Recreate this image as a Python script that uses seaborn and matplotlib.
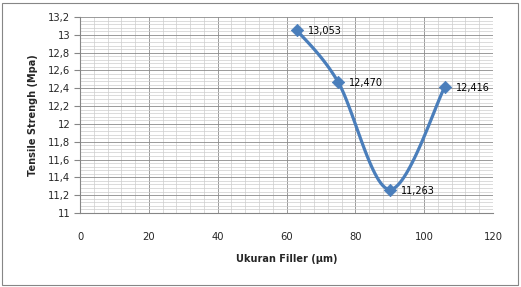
import numpy as np
import matplotlib
matplotlib.use("Agg")
import matplotlib.pyplot as plt
import seaborn as sns
import pandas as pd
from matplotlib.ticker import MultipleLocator, FuncFormatter
from matplotlib.patches import Rectangle

ukuran = [63, 75, 90, 106]
tensile = [13.053, 12.470, 11.263, 12.416]
labels = ["13,053", "12,470", "11,263", "12,416"]

sns.set_theme(style="white")
plt.rcParams['font.family'] = ['DejaVu Sans']

fig = plt.figure(figsize=(5.21, 2.87), dpi=100)
ax = fig.add_axes([80/521, 1-213/287, 413/521, 196/287])

xmin, xmax, ymin, ymax = 0, 120, 11, 13.2
ax.set_xlim(xmin, xmax)
ax.set_ylim(ymin, ymax)

# smooth line (Excel-style Bezier smoothing) computed in pixel space
sx = 413/(xmax-xmin); sy = 196/(ymax-ymin)
P = np.array([[x*sx, (y-ymin)*sy] for x, y in zip(ukuran, tensile)])
n = len(P)
curve = []
t = np.linspace(0, 1, 40)
for i in range(n-1):
    p0 = P[max(i-1, 0)]; p1 = P[i]; p2 = P[i+1]; p3 = P[min(i+2, n-1)]
    c1 = p1 + (p2-p0)/6
    c2 = p2 - (p3-p1)/6
    seg = ((1-t)**3)[:, None]*p1 + (3*(1-t)**2*t)[:, None]*c1 + (3*(1-t)*t**2)[:, None]*c2 + (t**3)[:, None]*p2
    curve.append(seg)
curve = np.vstack(curve)
cx = curve[:, 0]/sx
cy = curve[:, 1]/sy + ymin

blue = "#4a7ebb"
ax.plot(cx, cy, color=blue, lw=2.3, solid_capstyle='round', zorder=3)
df = pd.DataFrame({"x": ukuran, "y": tensile})
sns.scatterplot(data=df, x="x", y="y", ax=ax, marker="D", s=40, color=blue,
                edgecolor=blue, zorder=4, legend=False)

for x, y, l in zip(ukuran, tensile, labels):
    ax.annotate(l, (x, y), xytext=(8, -1), textcoords="offset points",
                va="center", ha="left", fontsize=7, color="black", zorder=5)

ax.xaxis.set_major_locator(MultipleLocator(20))
ax.xaxis.set_minor_locator(MultipleLocator(4))
ax.yaxis.set_major_locator(MultipleLocator(0.2))
ax.yaxis.set_minor_locator(MultipleLocator(0.04))
ax.grid(which="major", color="#8a8a8a", lw=0.6)
ax.grid(which="minor", color="#cdcdcd", lw=0.5)
ax.set_axisbelow(True)

fmt = FuncFormatter(lambda v, p: ("%g" % round(v, 2)).replace(".", ","))
ax.yaxis.set_major_formatter(fmt)
ax.xaxis.set_major_formatter(FuncFormatter(lambda v, p: "%d" % v))

for s in ["top", "right"]:
    ax.spines[s].set_visible(False)
for s in ["left", "bottom"]:
    ax.spines[s].set_color("#868686")
    ax.spines[s].set_linewidth(0.8)

ax.tick_params(axis="y", which="major", left=True, length=4, width=0.8, color="#868686",
               labelsize=7.2, pad=3)
ax.tick_params(axis="x", which="major", bottom=False, labelsize=7.2, pad=8)
ax.tick_params(which="minor", length=0)

ax.set_xlabel("Ukuran Filler (µm)", fontsize=7, fontweight="bold", labelpad=8)
ax.set_ylabel("Tensile Strengh (Mpa)", fontsize=7, fontweight="bold", labelpad=7)

fig.patches.append(Rectangle((2/521, 2/287), 516/521, 282/287, transform=fig.transFigure,
                             fill=False, edgecolor="#868686", lw=0.8))

fig.savefig("out.png", dpi=100)
